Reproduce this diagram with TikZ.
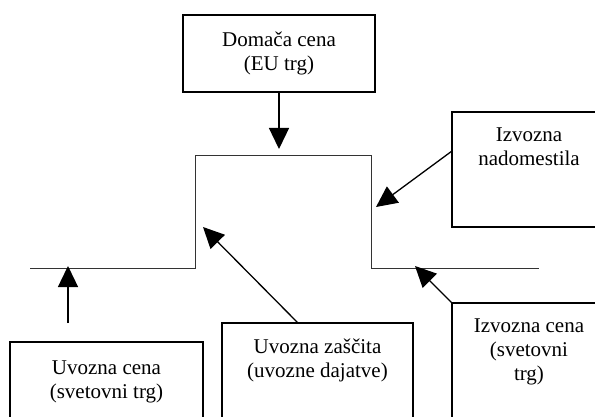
\documentclass[tikz,border=0pt]{standalone}
\usepackage{fontspec}
\setmainfont{Liberation Serif}
\usetikzlibrary{arrows.meta}
\newcommand\bxt[4]{\parbox[t][#2][t]{#1}{\centering\vspace*{#3}\strut#4}}
\tikzset{
  box/.style={draw=black, line width=1.5pt, inner sep=0pt, outer sep=0pt, anchor=north west,
    font=\fontsize{21}{24}\selectfont},
  arr/.style={draw=black, line width=1.3pt, -{Triangle[length=21pt,width=20pt]}},
  stepline/.style={draw=black!80, line width=0.9pt},
}
\begin{document}
\begin{tikzpicture}[x=1pt,y=-1pt]
\useasboundingbox (0,0) rectangle (595,417);
\clip (0,0) rectangle (595,417);
\fill[white] (0,0) rectangle (595,417);
% boxes
\node[box] (dom) at (183,15) {\bxt{192pt}{77pt}{15pt}{Domača cena\\(EU trg)}};
\node[box] (nad) at (452,112) {\bxt{154pt}{115pt}{13pt}{Izvozna\\nadomestila}};
\node[box] (uvc) at (10,342) {\bxt{193pt}{90pt}{16pt}{Uvozna cena\\(svetovni trg)}};
\node[box] (zas) at (222,323) {\bxt{191pt}{110pt}{14pt}{Uvozna zaščita\\(uvozne dajatve)}};
\node[box] (izc) at (452,303) {\bxt{154pt}{130pt}{13pt}{Izvozna cena\\(svetovni\\trg)}};
% price line
\coordinate (p1) at (30,268);
\coordinate (p2) at (195,268);
\coordinate (p3) at (195,155);
\coordinate (p4) at (371,155);
\coordinate (p5) at (371,268);
\coordinate (p6) at (539,268);
\draw[stepline] (p1) -- (p2) -- (p3) -- (p4) -- (p5) -- (p6);
% arrow tips and free ends
\coordinate (t1) at (279,149);
\coordinate (t2) at (376,207);
\coordinate (s3) at (68,323);
\coordinate (t3) at (68,266);
\coordinate (t4) at (203,227);
\coordinate (t5) at (415,266);
\draw[arr] (dom.south) -- (t1);
\draw[arr] ([yshift=-39pt]nad.north west) -- (t2);
\draw[arr] (s3) -- (t3);
\draw[arr] ([xshift=-19.5pt]zas.north) -- (t4);
\draw[arr] (izc.north west) -- (t5);
\end{tikzpicture}
\end{document}
